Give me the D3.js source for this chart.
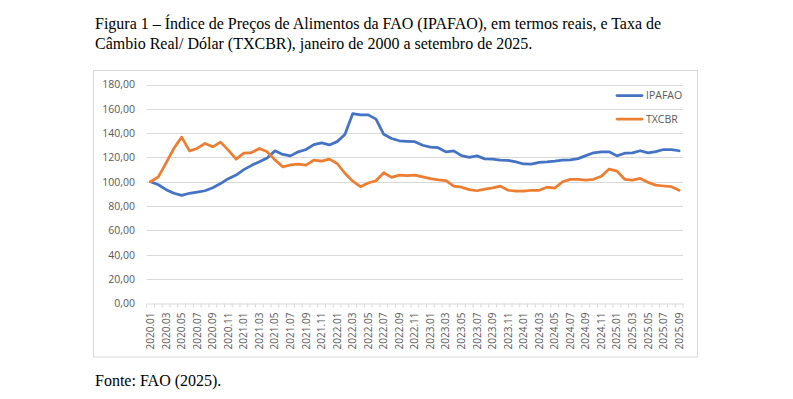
<!DOCTYPE html>
<html><head><meta charset="utf-8">
<script src="https://cdn.jsdelivr.net/npm/d3@7"></script>
<style>
body{margin:0;background:#fff;}
svg{display:block;}
</style></head>
<body>
<svg id="chart" width="793" height="399"></svg>
<script>
const months = [
"2020.01","2020.02","2020.03","2020.04","2020.05","2020.06","2020.07","2020.08","2020.09","2020.10","2020.11","2020.12",
"2021.01","2021.02","2021.03","2021.04","2021.05","2021.06","2021.07","2021.08","2021.09","2021.10","2021.11","2021.12",
"2022.01","2022.02","2022.03","2022.04","2022.05","2022.06","2022.07","2022.08","2022.09","2022.10","2022.11","2022.12",
"2023.01","2023.02","2023.03","2023.04","2023.05","2023.06","2023.07","2023.08","2023.09","2023.10","2023.11","2023.12",
"2024.01","2024.02","2024.03","2024.04","2024.05","2024.06","2024.07","2024.08","2024.09","2024.10","2024.11","2024.12",
"2025.01","2025.02","2025.03","2025.04","2025.05","2025.06","2025.07","2025.08","2025.09"];

const ipafao = [
100,97.5,93.5,90.5,88.8,90.5,91.5,92.6,95,98.5,102.5,105.5,
110,113.5,116.4,119.5,125.4,122.5,121.3,124.6,126.5,130.5,132,130.3,
133,138.9,156,155,155,151.5,139,135.6,133.7,133.3,133,130,
128.5,128,124.6,125.4,121.5,120,121.3,118.8,118.6,117.8,117.5,116.3,
114.6,114.5,116,116.4,117,117.8,118,119,121.5,123.8,124.6,124.6,
121.3,123.5,123.8,125.5,123.8,124.8,126.5,126.4,125.5];

const txcbr = [
100,104,115.5,127.5,136.7,125.4,127.4,131.5,128.7,132.6,126,118.6,
123.5,124,127.4,124.6,118,112.3,113.8,114.5,113.7,117.8,117,118.6,
115,107,100.5,95.9,99,100.8,107.4,103.6,105.5,105,105.5,104,
102.5,101.5,101,96.4,95.5,93.5,92.6,94,95,96.4,93,92.3,
92.3,93,93,95.5,94.8,100,102,102,101.3,102,104.5,110.4,
108.7,102,101.3,102.7,99.5,97.2,96.5,95.9,93];

const yTicks = [0,20,40,60,80,100,120,140,160,180];
const seriesNames = ["IPAFAO","TXCBR"];
const titleLines = [
 "Figura 1 – Índice de Preços de Alimentos da FAO (IPAFAO), em termos reais, e Taxa de",
 "Câmbio Real/ Dólar (TXCBR), janeiro de 2000 a setembro de 2025."];
const sourceText = "Fonte: FAO (2025).";

const svg = d3.select("#chart");
svg.append("rect").attr("width",793).attr("height",399).attr("fill","#fff");

// titles
svg.selectAll("text.title").data(titleLines).join("text")
  .attr("class","title")
  .attr("x",95).attr("y",(d,i)=>29+i*20)
  .attr("font-family","'Liberation Serif','Times New Roman',serif")
  .attr("font-size",16).attr("fill","#000")
  .text(d=>d);

// chart frame
svg.append("rect").attr("x",93.5).attr("y",70.5).attr("width",604).attr("height",286.5)
  .attr("fill","#fff").attr("stroke","#d9d9d9").attr("stroke-width",1);

svg.append("text").attr("x",95).attr("y",386)
  .attr("font-family","'Liberation Serif','Times New Roman',serif")
  .attr("font-size",16).attr("fill","#000").text(sourceText);

const x = d3.scaleBand().domain(months).range([146.7,683]);
const y = d3.scaleLinear().domain([0,180]).range([303.3,84.5]);
const cx = d => x(d) + x.bandwidth()/2;

const fmt = d3.formatLocale({decimal:",",thousands:".",grouping:[3],currency:["",""]}).format(".2f");

// gridlines
svg.append("g").selectAll("line").data(yTicks.filter(t=>t>0)).join("line")
  .attr("x1",146.7).attr("x2",683)
  .attr("y1",d=>Math.round(y(d))+0.5).attr("y2",d=>Math.round(y(d))+0.5)
  .attr("stroke","#d9d9d9").attr("stroke-width",1);

// y axis labels
const yAxis = d3.axisLeft(y).tickValues(yTicks).tickFormat(fmt).tickSize(0).tickPadding(0);
const gy = svg.append("g").attr("transform","translate(135,0)").call(yAxis);
gy.select(".domain").remove();
gy.selectAll("text").attr("font-family","'Open Sans','Liberation Sans',sans-serif")
  .attr("font-size",10.5).attr("fill","#595959");

// x axis
const xAxis = d3.axisBottom(x).tickSizeOuter(0).tickSize(0).tickPadding(0)
  .tickFormat((d,i)=> i%2===0 ? d : "");
const gx = svg.append("g").attr("transform",`translate(0,${Math.round(y(0))+0.5})`).call(xAxis);
gx.select(".domain").attr("stroke","#d9d9d9");
gx.selectAll(".tick line").remove();
gx.selectAll(".tick text")
  .attr("transform","rotate(-90)")
  .attr("x",-9).attr("y",0).attr("dy","0.35em")
  .attr("text-anchor","end")
  .attr("font-family","'Open Sans','Liberation Sans',sans-serif")
  .attr("font-size",10).attr("fill","#595959");

// x tick marks at category boundaries
const bounds = months.map(m=>x(m)).concat([x(months[months.length-1])+x.bandwidth()]);
gx.append("g").selectAll("line").data(bounds).join("line")
  .attr("x1",d=>d).attr("x2",d=>d).attr("y1",0).attr("y2",4)
  .attr("stroke","#d9d9d9").attr("stroke-width",1);

// lines
const colors = {IPAFAO:"#4472C4", TXCBR:"#ED7D31"};
const seriesData = {IPAFAO: ipafao, TXCBR: txcbr};
const line = d3.line().x((d,i)=>cx(months[i])).y(d=>y(d)).curve(d3.curveLinear);
seriesNames.forEach(n=>{
  svg.append("path").datum(seriesData[n])
    .attr("fill","none").attr("stroke",colors[n]).attr("stroke-width",2.75)
    .attr("stroke-linejoin","round").attr("stroke-linecap","round")
    .attr("d",line);
});

// legend
const lg = svg.append("g");
seriesNames.forEach((n,i)=>{
  const ly = 95.5 + i*23.5;
  lg.append("line").attr("x1",617).attr("x2",642).attr("y1",ly).attr("y2",ly)
    .attr("stroke",colors[n]).attr("stroke-width",2.75).attr("stroke-linecap","round");
  lg.append("text").attr("x",646).attr("y",ly).attr("dy","0.35em")
    .attr("font-family","'Open Sans','Liberation Sans',sans-serif")
    .attr("font-size",10.5).attr("fill","#595959").text(n);
});
</script>
</body></html>
